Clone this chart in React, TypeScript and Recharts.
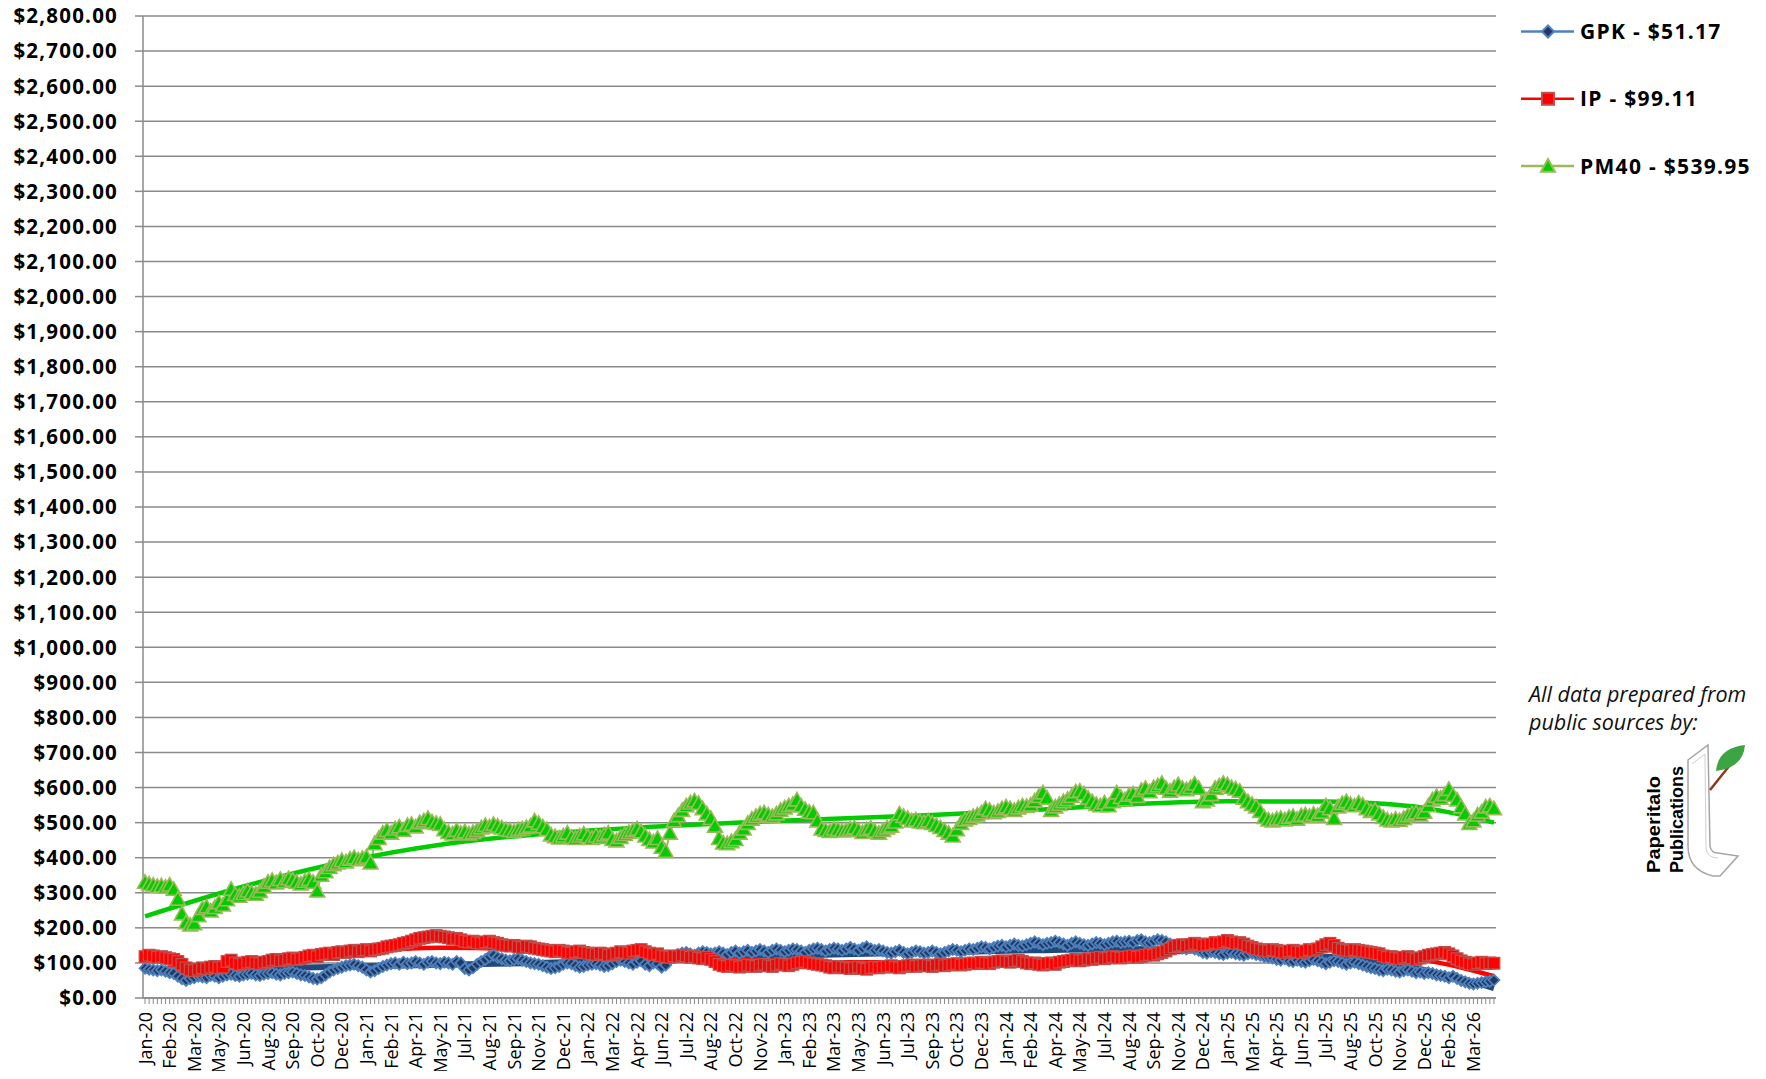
import React from 'react';
import { LineChart, Line, XAxis, YAxis, CartesianGrid } from 'recharts';

const tickLabels = [
  'Jan-20','Feb-20','Mar-20','May-20','Jun-20','Aug-20','Sep-20','Oct-20','Dec-20',
  'Jan-21','Feb-21','Apr-21','May-21','Jul-21','Aug-21','Sep-21','Nov-21','Dec-21',
  'Jan-22','Mar-22','Apr-22','Jun-22','Jul-22','Aug-22','Oct-22','Nov-22',
  'Jan-23','Feb-23','Mar-23','May-23','Jun-23','Jul-23','Sep-23','Oct-23','Dec-23',
  'Jan-24','Feb-24','Apr-24','May-24','Jul-24','Aug-24','Sep-24','Nov-24','Dec-24',
  'Jan-25','Mar-25','Apr-25','Jun-25','Jul-25','Aug-25','Oct-25','Nov-25','Dec-25',
  'Feb-26','Mar-26',
];
const LABEL_EVERY = 6;

const yTicks = [0,100,200,300,400,500,600,700,800,900,1000,1100,1200,1300,1400,1500,1600,1700,1800,1900,2000,2100,2200,2300,2400,2500,2600,2700,2800];

const gpkValues = [
  85,82,80,78,80,76,72,70,62,55,
  50,55,58,62,60,58,64,62,58,62,
  66,68,64,62,66,68,70,66,64,68,
  70,72,68,66,70,72,74,70,66,64,
  60,56,54,58,66,74,80,84,88,92,
  94,96,92,88,80,74,78,84,90,94,
  98,100,96,102,98,100,104,100,96,102,
  104,100,98,102,100,96,104,100,84,80,
  86,96,104,110,118,122,116,112,108,106,
  110,112,108,104,100,98,96,92,88,84,
  86,90,96,100,98,92,88,90,94,96,
  98,94,90,92,98,104,108,104,100,96,
  102,106,96,92,100,98,88,94,112,120,
  124,128,130,126,122,128,132,130,126,128,
  132,128,124,130,134,128,132,136,130,134,
  138,134,130,136,140,136,132,136,140,138,
  134,130,136,140,142,138,134,138,142,140,
  136,140,144,140,136,142,146,140,136,138,
  134,130,128,132,136,130,126,130,134,132,
  128,130,134,130,126,130,134,138,136,132,
  136,140,138,142,146,144,140,144,148,150,
  146,150,154,150,148,152,156,160,156,152,
  156,158,162,158,154,150,156,160,156,152,
  150,154,158,156,152,156,160,162,158,160,
  162,158,164,166,160,158,162,166,164,160,
  154,150,146,142,140,144,140,136,130,128,
  132,130,126,124,128,130,126,124,122,126,
  128,124,122,118,116,114,110,108,112,106,
  104,108,104,102,106,110,106,102,98,102,
  106,104,100,96,100,102,98,94,90,86,
  84,80,78,82,80,76,74,78,80,76,
  72,74,70,72,70,66,64,62,58,62,
  56,50,46,42,40,42,44,46,48,51.17,
];

const ipValues = [
  118,122,120,116,118,115,112,110,104,96,
  86,80,78,82,86,84,88,90,86,88,
  104,108,100,96,98,102,104,100,98,102,
  104,108,110,106,108,112,114,110,112,116,
  120,122,118,124,126,128,124,130,132,130,
  134,136,132,136,138,134,138,140,142,146,
  148,150,152,156,158,162,166,170,172,174,
  176,178,176,174,172,168,170,166,162,160,
  162,158,156,160,162,158,156,152,150,148,
  150,146,144,148,146,142,140,138,136,134,
  132,136,134,130,128,132,134,130,128,126,
  124,128,126,122,124,128,132,130,128,134,
  136,138,132,128,124,126,120,118,116,120,
  118,122,120,116,118,114,112,116,110,104,
  96,92,90,94,92,88,90,94,92,90,
  94,96,92,90,94,98,96,92,96,100,
  102,104,100,98,96,94,92,88,86,90,
  88,86,84,86,88,84,82,86,88,86,
  88,90,92,88,86,90,92,94,90,92,
  94,92,90,94,96,92,94,96,98,94,
  96,98,100,98,102,100,98,102,104,106,
  104,102,106,108,104,100,98,100,96,94,
  98,100,96,102,104,106,108,110,106,108,
  112,110,114,116,112,114,118,116,114,116,
  118,120,116,118,122,124,122,126,130,134,
  140,146,150,152,148,152,156,154,150,152,
  154,158,156,160,164,160,156,158,154,148,
  144,140,138,136,134,138,136,132,130,134,
  136,132,130,134,138,136,140,146,152,156,
  150,142,138,136,134,138,136,134,132,130,
  128,126,120,116,118,114,112,116,118,114,
  110,114,118,122,124,126,128,130,126,120,
  112,106,102,98,96,100,102,98,100,99.11,
];

const pm40Values = [
  330,325,322,318,320,316,322,310,282,240,
  215,208,212,235,255,260,248,258,272,265,
  280,310,295,290,298,305,300,296,304,318,
  330,335,328,338,332,340,336,330,325,333,
  338,330,305,350,360,372,380,385,392,388,
  396,400,394,398,402,385,440,455,470,478,
  470,482,488,478,492,495,488,500,505,512,
  502,498,495,480,472,468,478,470,474,468,
  472,478,485,492,488,495,490,485,480,478,
  475,480,482,486,490,505,498,488,480,465,
  460,456,462,470,458,455,462,468,460,455,
  462,458,465,470,452,448,458,466,472,478,
  482,474,462,452,445,455,430,418,470,505,
  520,535,548,556,562,555,540,525,512,490,
  455,442,440,446,452,470,482,498,510,518,
  525,528,522,518,525,535,542,548,552,565,
  548,538,530,528,505,482,478,475,482,480,
  476,478,482,485,478,472,480,484,476,470,
  478,485,490,502,525,518,512,505,508,502,
  500,505,498,492,486,478,470,462,480,498,
  508,512,518,522,528,540,535,528,532,540,
  545,540,535,542,548,546,550,562,575,585,
  570,535,545,552,560,566,575,588,590,582,
  570,560,552,548,556,548,560,585,572,565,
  578,582,575,592,598,588,600,605,612,598,
  590,600,608,598,594,600,610,598,560,565,
  580,598,605,612,608,600,596,590,570,560,
  552,545,532,515,508,505,510,512,508,515,
  518,510,520,522,518,524,520,530,548,540,
  512,545,555,560,552,548,556,550,540,532,
  535,525,515,508,505,510,506,512,520,525,
  528,522,530,548,565,575,570,580,595,578,
  565,545,525,498,505,522,530,545,548,539.95,
];

// Polynomial trendlines, at these week indices
const trendWeeks = [0, 24, 48, 72, 96, 120, 144, 168, 192, 216, 240, 264, 288, 300, 312, 320, 329];
const gpkTrendValues = [78, 84, 89, 95, 100, 108, 116, 124, 130, 136, 140, 134, 118, 104, 80, 58, 28];
const ipTrendValues = [78, 106, 129, 143, 138, 124, 111, 102, 102, 108, 122, 137, 136, 126, 108, 90, 62];
const pm40TrendValues = [233, 318, 387, 437, 467, 486, 500, 511, 522, 536, 552, 561, 560, 555, 542, 525, 500];

const data = gpkValues.map((v, i) => {
  const t = trendWeeks.indexOf(i);
  return {
    i,
    gpk: v,
    ip: ipValues[i],
    pm40: pm40Values[i],
    gpkTrend: t >= 0 ? gpkTrendValues[t] : null,
    ipTrend: t >= 0 ? ipTrendValues[t] : null,
    pm40Trend: t >= 0 ? pm40TrendValues[t] : null,
  };
});
const xTicks = data.map((d) => d.i);

const GRID = '#8a8a8a';
const FONT = '"Open Sans", sans-serif';

const money = (v: number) =>
  '$' + v.toLocaleString('en-US', { minimumFractionDigits: 2, maximumFractionDigits: 2 });

const Diamond = ({ cx, cy, r = 5.5, sw = 1.8 }: any) => (
  <path d={`M${cx},${cy - r}L${cx + r},${cy}L${cx},${cy + r}L${cx - r},${cy}Z`} fill="#1F3864" stroke="#4F81BD" strokeWidth={sw} />
);
const Square = ({ cx, cy, r = 5.8, sw = 1.3 }: any) => (
  <rect x={cx - r} y={cy - r} width={2 * r} height={2 * r} fill="#FF0000" stroke="#C0504D" strokeWidth={sw} />
);
const Triangle = ({ cx, cy, r = 7.5, sw = 1.6 }: any) => (
  <path d={`M${cx},${cy - r}L${cx + r},${cy + r * 0.8}L${cx - r},${cy + r * 0.8}Z`} fill="#00CC00" stroke="#9BBB59" strokeWidth={sw} />
);

const gpkDot = (p: any) => <Diamond key={`g${p.index}`} cx={p.cx} cy={p.cy} />;
const ipDot = (p: any) => <Square key={`r${p.index}`} cx={p.cx} cy={p.cy} />;
const pmDot = (p: any) => <Triangle key={`t${p.index}`} cx={p.cx} cy={p.cy} />;

const XTick = (props: any) => {
  const { x, y, payload } = props;
  const i = payload.value;
  if (i % LABEL_EVERY !== 0 || !tickLabels[i / LABEL_EVERY]) return <g />;
  return (
    <text
      x={x}
      y={y}
      transform={`rotate(-90, ${x}, ${y})`}
      textAnchor="end"
      dy="0.36em"
      fontFamily={FONT}
      fontSize={18}
      fill="#000"
    >
      {tickLabels[i / LABEL_EVERY]}
    </text>
  );
};

const YTick = (props: any) => {
  const { x, y, payload } = props;
  return (
    <text x={x} y={y} textAnchor="end" dy="0.36em" fontFamily={FONT} fontSize={20.5} fontWeight={700} letterSpacing={1.2} fill="#000">
      {money(payload.value)}
    </text>
  );
};

const legendItems = [
  { name: `GPK - ${money(gpkValues[gpkValues.length - 1])}`, line: '#4F81BD', Marker: Diamond, size: 6 },
  { name: `IP - ${money(ipValues[ipValues.length - 1])}`, line: '#FF0000', Marker: Square, size: 6 },
  { name: `PM40 - ${money(pm40Values[pm40Values.length - 1])}`, line: '#9BBB59', Marker: Triangle, size: 7 },
];

export default function App() {
  const W = 1766;
  const H = 1079;
  return (
    <div style={{ position: 'relative', marginTop: -8, marginLeft: -8, width: W, height: 1071 }}>
      <div style={{ position: 'absolute', left: 0, top: 0, width: W, height: H }}>
        <LineChart width={W} height={H} data={data} margin={{ top: 16, right: 270, left: 0, bottom: 0 }}>
          <CartesianGrid vertical={false} stroke={GRID} strokeWidth={1.5} />
          <XAxis
            dataKey="i"
            type="number"
            domain={[-0.5, data.length - 0.5]}
            ticks={xTicks}
            interval={0}
            height={81}
            tick={<XTick />}
            tickSize={6}
            tickMargin={8}
            tickLine={{ stroke: GRID, strokeWidth: 1 }}
            axisLine={{ stroke: GRID, strokeWidth: 1.5 }}
          />
          <YAxis
            type="number"
            domain={[0, 2800]}
            ticks={yTicks}
            interval={0}
            width={143}
            tick={<YTick />}
            tickSize={8}
            tickMargin={17}
            tickLine={{ stroke: GRID, strokeWidth: 1.5 }}
            axisLine={{ stroke: GRID, strokeWidth: 1.5 }}
          />
          <Line dataKey="gpk" stroke="#4F81BD" strokeWidth={2} dot={gpkDot} activeDot={false} isAnimationActive={false} />
          <Line dataKey="ip" stroke="#FF0000" strokeWidth={2} dot={ipDot} activeDot={false} isAnimationActive={false} />
          <Line dataKey="pm40" stroke="#9BBB59" strokeWidth={2} dot={pmDot} activeDot={false} isAnimationActive={false} />
          <Line dataKey="gpkTrend" type="monotone" connectNulls stroke="#1F497D" strokeWidth={6} dot={false} activeDot={false} isAnimationActive={false} />
          <Line dataKey="ipTrend" type="monotone" connectNulls stroke="#FF0000" strokeWidth={4.5} dot={false} activeDot={false} isAnimationActive={false} />
          <Line dataKey="pm40Trend" type="monotone" connectNulls stroke="#00CC00" strokeWidth={4.5} dot={false} activeDot={false} isAnimationActive={false} />
        </LineChart>
        <svg width={W} height={H} style={{ position: 'absolute', left: 0, top: 0, pointerEvents: 'none' }}>
          {legendItems.map((it, k) => {
            const cy = 31.5 + k * 67.3;
            const M = it.Marker;
            return (
              <g key={it.name}>
                <line x1={1521} x2={1574} y1={cy} y2={cy} stroke={it.line} strokeWidth={2.5} />
                <M cx={1548} cy={cy} r={it.size} sw={2} />
                <text x={1580} y={cy} dy="0.36em" fontFamily={FONT} fontSize={21} fontWeight={700} letterSpacing={1.3} fill="#000">
                  {it.name}
                </text>
              </g>
            );
          })}
          <text x={1529} y={694} dy="0.36em" fontFamily={FONT} fontSize={21.5} fontStyle="italic" fill="#111">
            All data prepared from
          </text>
          <text x={1529} y={722} dy="0.36em" fontFamily={FONT} fontSize={21.5} fontStyle="italic" fill="#111">
            public sources by:
          </text>
          <path
            d="M1688,760 L1708,745 L1710,846 Q1711,853 1718,853 L1738,856 L1720,876 L1713,876 Q1688,870 1688,846 Z"
            fill="#fff"
            stroke="#a6a6a6"
            strokeWidth={1.5}
          />
          <path d="M1692,764 L1705,754 L1706,848 Q1707,858 1718,858" fill="none" stroke="#cfcfcf" strokeWidth={1} />
          <line x1={1710} y1={790} x2={1730} y2={765} stroke="#8B3A1A" strokeWidth={2.5} />
          <path d="M1716,771 Q1718,748 1745,745 Q1743,768 1716,771 Z" fill="#3DA444" />
          <text
            x={1654}
            y={873}
            transform="rotate(-90, 1654, 873)"
            dy="0.36em"
            fontFamily='"Liberation Sans", Arial, sans-serif'
            fontSize={18}
            fontWeight={700}
            textLength={97}
            lengthAdjust="spacingAndGlyphs"
            fill="#000"
          >
            Paperitalo
          </text>
          <text
            x={1677}
            y={873}
            transform="rotate(-90, 1677, 873)"
            dy="0.36em"
            fontFamily='"Liberation Sans", Arial, sans-serif'
            fontSize={18}
            fontWeight={700}
            textLength={107}
            lengthAdjust="spacingAndGlyphs"
            fill="#000"
          >
            Publications
          </text>
        </svg>
      </div>
    </div>
  );
}
